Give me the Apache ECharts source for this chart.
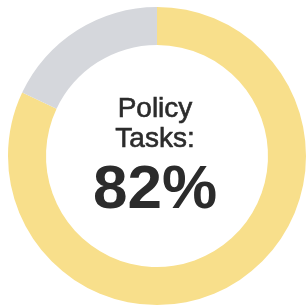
<!DOCTYPE html>
<html>
<head>
<meta charset="utf-8">
<script src="https://cdn.jsdelivr.net/npm/echarts@6/dist/echarts.min.js"></script>
<style>
  html, body { margin: 0; padding: 0; background: #ffffff; }
  #chart { width: 308px; height: 305px; }
</style>
</head>
<body>
<div id="chart"></div>
<script>
// 数据
const categories = ['Completed', 'Remaining'];
const values = [82, 18];
const colors = ['#f8df8b', '#d5d7dc'];
const titleLines = ['Policy', 'Tasks:'];
const percentLabel = '82%';

const chart = echarts.init(document.getElementById('chart'));

const option = {
  backgroundColor: '#ffffff',
  animation: false,
  series: [
    {
      type: 'pie',
      center: [157, 156],
      radius: [111, 149],
      startAngle: 90,
      clockwise: true,
      silent: true,
      label: { show: false },
      labelLine: { show: false },
      data: categories.map((name, i) => ({
        name: name,
        value: values[i],
        itemStyle: { color: colors[i] }
      }))
    }
  ],
  // 中间文字（普通字重稍加描边，接近原图的扫描效果）
  graphic: [
    {
      type: 'text',
      style: {
        text: titleLines[0], x: 155, y: 109,
        textAlign: 'center', textVerticalAlign: 'middle',
        font: '28px "Liberation Sans", Arial, sans-serif', fill: '#2b2b2b',
        stroke: '#2b2b2b', lineWidth: 0.6
      }
    },
    {
      type: 'text',
      style: {
        text: titleLines[1], x: 155, y: 139,
        textAlign: 'center', textVerticalAlign: 'middle',
        font: '28px "Liberation Sans", Arial, sans-serif', fill: '#2b2b2b',
        stroke: '#2b2b2b', lineWidth: 0.6
      }
    },
    {
      type: 'text',
      style: {
        text: percentLabel, x: 155, y: 191,
        textAlign: 'center', textVerticalAlign: 'middle',
        font: 'bold 62px "Liberation Sans", Arial, sans-serif', fill: '#2b2b2b'
      }
    }
  ]
};

chart.setOption(option);
</script>
</body>
</html>
